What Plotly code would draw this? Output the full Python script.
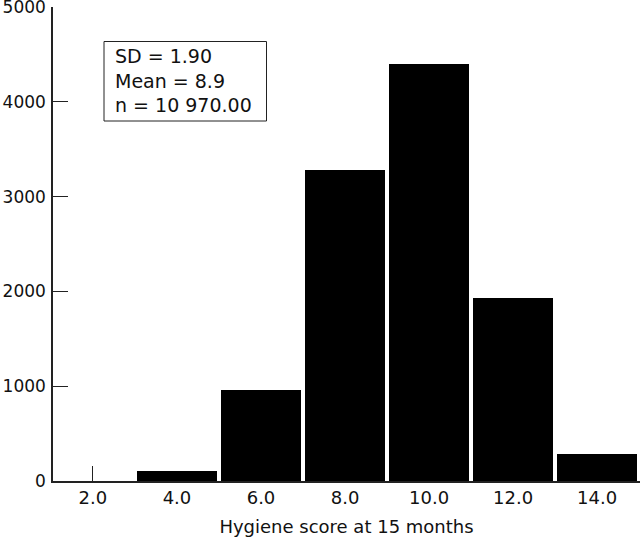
import plotly.graph_objects as go

# Data
scores = [2, 4, 6, 8, 10, 12, 14]
tick_labels = ["2.0", "4.0", "6.0", "8.0", "10.0", "12.0", "14.0"]
counts = [0, 110, 960, 3280, 4400, 1930, 290]
y_ticks = [0, 1000, 2000, 3000, 4000, 5000]
stats_lines = ["SD = 1.90", "Mean = 8.9", "n = 10 970.00"]
x_title = "Hygiene score at 15 months"

FONT = "'DejaVu Sans', sans-serif"
AX = "#222222"
TXT = "#111111"

# plot-area geometry in pixels (used only to place the stats box)
L, R, T, B, W, H = 53, 0, 7, 58, 640, 539
PW, PH = W - L - R, H - T - B
X_RANGE = [1.05, 15.02]


def px_x(x):
    return (x - L) / PW


def px_y(y):
    return (H - B - y) / PH


# only the empty category shows its tick mark (others are hidden by the bars)
visible_tick_scores = [s for s, c in zip(scores, counts) if c == 0]

fig = go.Figure()
fig.add_trace(go.Bar(
    x=scores, y=counts, width=1.905,
    marker=dict(color="black", line=dict(width=0)),
    showlegend=False, hoverinfo="x+y",
))
# invisible helper trace so the tick-only overlay axis gets drawn
fig.add_trace(go.Scatter(
    x=visible_tick_scores, y=[0] * len(visible_tick_scores),
    xaxis="x2", yaxis="y", mode="markers",
    marker=dict(opacity=0, size=1), hoverinfo="skip", showlegend=False,
))

fig.update_layout(
    width=W, height=H,
    margin=dict(l=L, r=R, t=T, b=B, pad=0),
    plot_bgcolor="white", paper_bgcolor="white",
    font=dict(family=FONT, size=18, color=TXT),
    bargap=0,
    xaxis=dict(
        range=X_RANGE,
        tickvals=scores, ticktext=tick_labels,
        ticks="",
        showline=True, linecolor=AX, linewidth=1.5,
        showgrid=False, zeroline=False, automargin=False,
        title=dict(text=x_title, standoff=13, font=dict(size=18)),
        tickfont=dict(size=18),
        ticklabeloverflow="allow",
    ),
    xaxis2=dict(
        overlaying="x", anchor="y", side="bottom", range=X_RANGE,
        tickmode="array", tickvals=visible_tick_scores,
        ticks="inside", ticklen=15, tickwidth=1, tickcolor=AX,
        showticklabels=False, showline=False, showgrid=False,
        zeroline=False, automargin=False,
    ),
    yaxis=dict(
        range=[0, 5000],
        tickvals=y_ticks,
        ticks="inside", ticklen=15, tickwidth=1, tickcolor=AX,
        showline=True, linecolor=AX, linewidth=1.5,
        showgrid=False, zeroline=False, automargin=False,
        tickfont=dict(size=17),
        ticklabelstandoff=2,
        ticklabeloverflow="allow",
    ),
)

# stats box
fig.add_shape(
    type="rect", xref="paper", yref="paper",
    x0=px_x(104), x1=px_x(266.5), y0=px_y(121), y1=px_y(41.5),
    line=dict(color=AX, width=1), fillcolor="white", layer="above",
)
fig.add_annotation(
    xref="paper", yref="paper",
    x=px_x(112.5), y=px_y(81),
    xanchor="left", yanchor="middle",
    text="<br>".join(stats_lines),
    align="left", showarrow=False,
    font=dict(size=19, family=FONT, color=TXT),
)

fig.write_html(
    "out.html",
    config={"displayModeBar": False},
    post_script="document.body.style.margin='0';document.body.style.padding='0';",
)
